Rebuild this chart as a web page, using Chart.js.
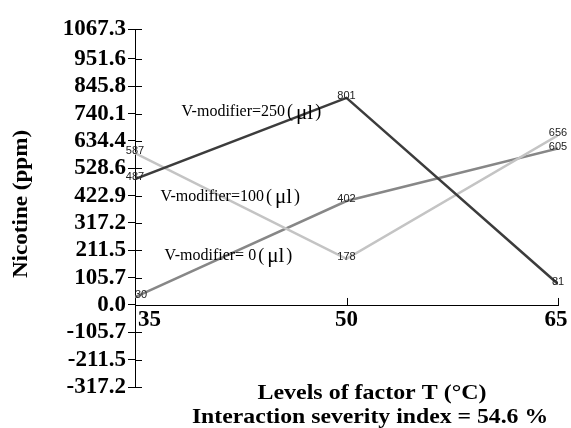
<!DOCTYPE html>
<html>
<head>
<meta charset="utf-8">
<script src="https://cdn.jsdelivr.net/npm/chart.js@4/dist/chart.umd.min.js"></script>
<style>
    body { margin: 0; background: #fff; }
    canvas { display: block; }
</style>
</head>
<body>
<canvas id="interactionChart" width="571" height="428"></canvas>
<script>
// Nicotine (ppm) at three temperature levels, one line per V-modifier dose
const temps = [35, 50, 65];
const v250 = [487, 801, 81];
const v100 = [587, 178, 656];
const v0 = [30, 402, 605];
const seriesNames = ['V-modifier=250', 'V-modifier=100', 'V-modifier= 0'];
const yTicks = [-317.2, -211.5, -105.7, 0.0, 105.7, 211.5, 317.2, 422.9, 528.6, 634.4, 740.1, 845.8, 951.6, 1067.3];

const serif = '"Liberation Serif", "Times New Roman", serif';

function toPoints(values) {
    return temps.map((t, i) => ({ x: t, y: values[i] }));
}

// where each series name is written (data coordinates, left edge / middle)
const nameAnchors = [
    { x: 38.3, y: 746 },
    { x: 36.8, y: 418 },
    { x: 37.1, y: 190 }
];

// wide bold serif text, like the old plotting program used
function wideText(ctx, text, x, y, stretch) {
    ctx.save();
    ctx.translate(x, y);
    ctx.scale(stretch, 1);
    ctx.fillText(text, 0, 0);
    ctx.restore();
}

const axesPlugin = {
    id: 'axesPlugin',
    beforeDatasetsDraw(chart) {
        const ctx = chart.ctx;
        const xs = chart.scales.x;
        const ys = chart.scales.y;
        const area = chart.chartArea;
        const y0 = ys.getPixelForValue(0);

        ctx.save();
        ctx.strokeStyle = '#000';
        ctx.lineWidth = 1;

        // x axis sits on the zero line
        ctx.beginPath();
        ctx.moveTo(area.left, Math.round(y0) + 0.5);
        ctx.lineTo(xs.getPixelForValue(65), Math.round(y0) + 0.5);
        temps.slice(1).forEach(t => {
            const px = Math.round(xs.getPixelForValue(t)) + 0.5;
            ctx.moveTo(px, y0 + 1);
            ctx.lineTo(px, y0 - 7);
        });
        // right half of the y ticks
        yTicks.forEach(v => {
            const py = Math.round(ys.getPixelForValue(v)) + 0.5;
            ctx.moveTo(area.left, py);
            ctx.lineTo(area.left + 7, py);
        });
        ctx.stroke();

        ctx.fillStyle = '#000';
        ctx.font = 'bold 23px ' + serif;
        ctx.textBaseline = 'top';
        temps.forEach((t, i) => {
            const px = xs.getPixelForValue(t);
            if (i === 0) {
                ctx.textAlign = 'left';
                ctx.fillText(String(t), px + 3, y0 + 4);
            } else if (i === temps.length - 1) {
                ctx.textAlign = 'center';
                ctx.fillText(String(t), px - 2, y0 + 4);
            } else {
                ctx.textAlign = 'center';
                ctx.fillText(String(t), px, y0 + 4);
            }
        });
        ctx.restore();
    },
    afterDatasetsDraw(chart) {
        const ctx = chart.ctx;
        const xs = chart.scales.x;
        const ys = chart.scales.y;

        ctx.save();
        // value at each point
        ctx.fillStyle = '#222';
        ctx.font = '11px "Liberation Sans", Arial, sans-serif';
        ctx.textAlign = 'center';
        ctx.textBaseline = 'middle';
        chart.data.datasets.forEach(ds => {
            ds.data.forEach(p => {
                let px = xs.getPixelForValue(p.x);
                if (p.x === temps[0] && p.y < 100) px += 6;
                ctx.fillText(String(p.y), px, ys.getPixelForValue(p.y) - 2);
            });
        });

        // series names
        ctx.fillStyle = '#000';
        ctx.textAlign = 'left';
        ctx.textBaseline = 'middle';
        seriesNames.forEach((name, i) => {
            let px = xs.getPixelForValue(nameAnchors[i].x);
            const py = ys.getPixelForValue(nameAnchors[i].y);
            ctx.font = '16px ' + serif;
            ctx.fillText(name, px, py);
            px += ctx.measureText(name).width + 2;
            ctx.font = '18px ' + serif;
            ctx.fillText('(', px, py);
            px += ctx.measureText('(').width + 3;
            ctx.font = '21px ' + serif;
            ctx.fillText('μl', px, py + 1);
            px += ctx.measureText('μl').width + 2;
            ctx.font = '18px ' + serif;
            ctx.fillText(')', px, py);
        });

        // axis titles
        ctx.font = 'bold 22px ' + serif;
        ctx.textAlign = 'center';
        ctx.textBaseline = 'alphabetic';
        ctx.save();
        ctx.translate(27, 204);
        ctx.rotate(-Math.PI / 2);
        wideText(ctx, 'Nicotine (ppm)', 0, 0, 1.05);
        ctx.restore();

        ctx.font = 'bold 21px ' + serif;
        wideText(ctx, 'Levels of factor T (°C)', 372, 399, 1.14);
        wideText(ctx, 'Interaction severity index = 54.6 %', 370, 423, 1.13);
        ctx.restore();
    }
};

new Chart(document.getElementById('interactionChart').getContext('2d'), {
    type: 'line',
    data: {
        datasets: [
            { label: seriesNames[0], data: toPoints(v250), borderColor: '#3c3c3c' },
            { label: seriesNames[1], data: toPoints(v100), borderColor: '#c4c4c4' },
            { label: seriesNames[2], data: toPoints(v0), borderColor: '#878787' }
        ]
    },
    options: {
        responsive: false,
        animation: false,
        layout: { padding: { top: 29, right: 13, bottom: 41, left: 0 } },
        elements: {
            line: { borderWidth: 2.5, tension: 0, fill: false },
            point: { radius: 0 }
        },
        plugins: {
            legend: { display: false },
            tooltip: { enabled: false }
        },
        scales: {
            x: { type: 'linear', min: 35, max: 65, display: false },
            y: {
                min: -317.2,
                max: 1067.3,
                afterBuildTicks: s => { s.ticks = yTicks.map(v => ({ value: v })); },
                afterFit: s => { s.width = 135; },
                ticks: {
                    autoSkip: false,
                    padding: 2,
                    color: '#000',
                    font: { family: serif, size: 23, weight: 'bold' },
                    callback: v => v.toFixed(1)
                },
                grid: { drawOnChartArea: false, tickLength: 7, color: '#000', lineWidth: 1 },
                border: { color: '#000', width: 1 }
            }
        }
    },
    plugins: [axesPlugin]
});
</script>
</body>
</html>
